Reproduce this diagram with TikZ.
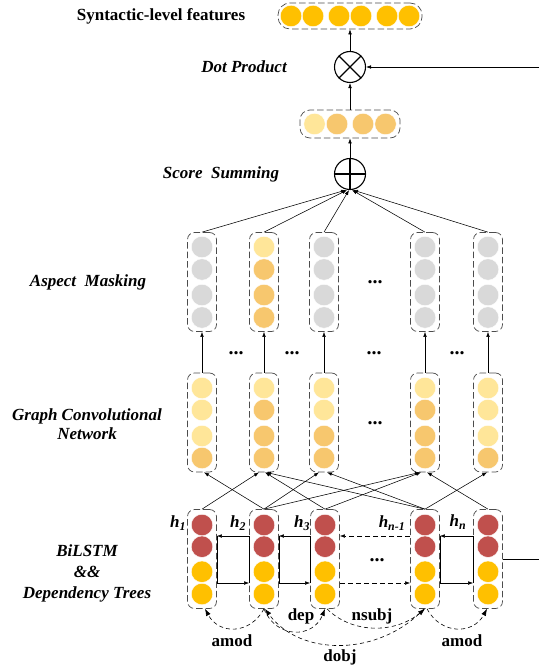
\documentclass[tikz,border=0pt]{standalone}
\usepackage{fontspec}
\setmainfont{Liberation Serif}
\usetikzlibrary{arrows.meta,calc}
\definecolor{gd}{HTML}{FFC000}
\definecolor{rd}{HTML}{C0504D}
\definecolor{lt}{HTML}{FFE699}
\definecolor{md}{HTML}{F7C76E}
\definecolor{gr}{HTML}{D9D9D9}
\begin{document}
\begin{tikzpicture}[x=1pt,y=-1pt,
  dbox/.style={draw=black!70, line width=0.7pt, dash pattern=on 6.5pt off 3pt, rounded corners=7pt, minimum width=29pt, minimum height=99pt, inner sep=0pt},
  ball/.style={circle, inner sep=0pt, minimum size=21.5pt, draw=white, line width=0.4pt},
  lab/.style={font=\fontsize{17}{19}\selectfont\bfseries\itshape, align=center},
  blab/.style={font=\fontsize{17}{19}\selectfont\bfseries},
  arr/.style={-{Latex[length=5pt,width=3.6pt]}, line width=0.55pt},
  deparr/.style={-{Latex[length=7pt,width=5pt]}, dash pattern=on 4pt off 3pt, line width=0.6pt},
  dotsn/.style={font=\fontsize{20}{20}\selectfont\bfseries, inner sep=0pt},
  op/.style={circle, draw, line width=1.1pt, minimum size=31pt, inner sep=0pt}]
\useasboundingbox (0,0) rectangle (539,668);

% ---- top stack ----
\node[dbox, minimum width=144pt, minimum height=26pt, rounded corners=12pt] (syn) at (350,16) {};
\foreach \k/\dx in {1/-59,2/-37,3/-11,4/11,5/37,6/59}
  \node[ball, fill=gd] (syn c\k) at (350+\dx,16) {};
\node[op] (dot) at (350,67) {};
\draw[line width=1.1pt] (dot.north east) -- (dot.south west) (dot.north west) -- (dot.south east);
\node[dbox, minimum width=100pt, minimum height=28pt, rounded corners=10pt] (mid) at (350,124) {};
\foreach \k/\dx/\c in {1/-35.5/lt,2/-13/md,3/13/md,4/35.5/md}
  \node[ball, fill=\c] (mid c\k) at (350+\dx,124) {};
\node[op] (sum) at (350,174) {};
\draw[line width=1.1pt] (sum.north) -- (sum.south) (sum.west) -- (sum.east);

\coordinate (rin) at (539,67);
\draw[arr] (rin) -- (dot.east);
\draw[arr] (dot.north) -- (syn.south);
\draw[arr] (mid.north) -- (dot.south);
\draw[arr] (sum.north) -- (mid.south);

% ---- columns ----
\foreach \i/\x/\ca/\cb/\cc/\cd in {1/202/gr/gr/gr/gr, 2/264/lt/md/md/md, 3/324/gr/gr/gr/gr, 4/425/gr/gr/gr/gr, 5/488/gr/gr/gr/gr}{
  \node[dbox] (am\i) at (\x,282) {};
  \foreach \k/\dy/\c in {1/-35/\ca, 2/-12.5/\cb, 3/13/\cc, 4/35.5/\cd}
    \node[ball, fill=\c] (am\i c\k) at (\x,282+\dy) {};
}
\foreach \i/\x/\ca/\cb/\cc/\cd in {1/202/lt/lt/lt/md, 2/264/lt/md/md/md, 3/324/lt/lt/md/md, 4/425/lt/md/md/md, 5/488/lt/lt/lt/md}{
  \node[dbox] (g\i) at (\x,422.5) {};
  \foreach \k/\dy/\c in {1/-34.5/\ca, 2/-12.5/\cb, 3/13.5/\cc, 4/35.5/\cd}
    \node[ball, fill=\c] (g\i c\k) at (\x,422.5+\dy) {};
}
\foreach \i/\x in {1/202, 2/264, 3/325, 4/425, 5/488}{
  \node[dbox] (b\i) at (\x,559) {};
  \foreach \k/\dy/\c in {1/-34/rd, 2/-12.3/rd, 3/12.7/gd, 4/35/gd}
    \node[ball, fill=\c] (b\i c\k) at (\x,559+\dy) {};
}

% ---- labels ----
\node[blab] (tsyn) at (161,16) {Syntactic-level features};
\node[lab] (tdot) at (244,67) {Dot Product};
\node[lab] (tsum) at (221,174) {Score\ \ Summing};
\node[lab] (tam) at (88,282) {Aspect\ \ Masking};
\node[lab] (tgcn) at (87,424) {Graph Convolutional\\Network};
\node[lab, font=\fontsize{17}{21}\selectfont\bfseries\itshape] (tbi) at (87,573) {BiLSTM\\\&\&\\Dependency Trees};

\node[lab] (h1) at (178,523) {h\textsubscript{1}};
\node[lab] (h2) at (238,523) {h\textsubscript{2}};
\node[lab] (h3) at (302,523) {h\textsubscript{3}};
\node[lab] (hn1) at (392,523) {h\textsubscript{n-1}};
\node[lab] (hn) at (458,522) {h\textsubscript{n}};

% ---- dots ----
\node[dotsn] (d1) at (375,282) {...};
\node[dotsn] (d2) at (236,353) {...};
\node[dotsn] (d3) at (292,353) {...};
\node[dotsn] (d4) at (374,353) {...};
\node[dotsn] (d5) at (457,353) {...};
\node[dotsn] (d6) at (375,423) {...};
\node[dotsn] (d7) at (377,560) {...};

% ---- AM -> sum ----
\draw[arr] (am1.north) -- ([xshift=-4pt]sum.south);
\draw[arr] (am2.north) -- ([xshift=-3pt]sum.south);
\draw[arr] (am3.north) -- ([xshift=-1pt]sum.south);
\draw[arr] (am4.north) -- ([xshift=2pt]sum.south);
\draw[arr] (am5.north) -- ([xshift=3pt]sum.south);

% ---- GCN -> AM ----
\foreach \i in {1,...,5} \draw[arr] (g\i.north) -- (am\i.south);

% ---- BiLSTM -> GCN ----
\foreach \a/\b/\s in {1/2/-5, 2/1/2, 2/3/-5, 2/4/-5, 3/2/1, 3/4/-4, 4/2/2, 4/3/3, 4/5/-1, 5/4/2}
  \draw[arr] (b\a.north) -- ([xshift=\s pt]g\b.south);

% ---- BiLSTM chain ----
\foreach \i/\j in {1/2, 2/3, 4/5}{
  \draw[arr] ($(b\j.west)+(0,-23)$) -- ($(b\i.east)+(0,-23)$);
  \draw ($(b\i.east)+(0,-23)$) -- ($(b\i.east)+(0,24)$);
  \draw[arr] ($(b\i.east)+(0,24)$) -- ($(b\j.west)+(0,24)$);
  \draw ($(b\j.west)+(0,24)$) -- ($(b\j.west)+(0,-23)$);
}
\draw[arr, dash pattern=on 5pt off 3pt] ($(b4.west)+(0,-23)$) -- ($(b3.east)+(0,-23)$);
\draw[arr, dash pattern=on 5pt off 3pt] ($(b3.east)+(0,24)$) -- ($(b4.west)+(0,24)$);
\coordinate (rout) at (539,559);
\draw[line width=0.6pt] (b5.east) -- (rout);

% ---- dependency arcs ----
\draw[deparr] (b2.south) .. controls +(-14,26) and +(14,26) .. ([xshift=3pt]b1.south);
\draw[deparr] (b2.south) .. controls +(12,30) and +(-12,30) .. (b3.south);
\draw[deparr] ([xshift=2pt]b3.south) .. controls +(25,25) and +(-30,25) .. (b4.south);
\draw[deparr] ([xshift=-1pt]b4.south) .. controls +(-45,48) and +(35,48) .. ([xshift=1pt]b2.south);
\draw[deparr] ([xshift=2pt]b4.south) .. controls +(14,26) and +(-14,26) .. ([xshift=-1pt]b5.south);

\node[blab] (lamod1) at (232,641) {amod};
\node[blab] (ldep) at (301,616) {dep};
\node[blab] (lnsubj) at (372,616) {nsubj};
\node[blab] (ldobj) at (340,657) {dobj};
\node[blab] (lamod2) at (462,641) {amod};
\end{tikzpicture}
\end{document}
